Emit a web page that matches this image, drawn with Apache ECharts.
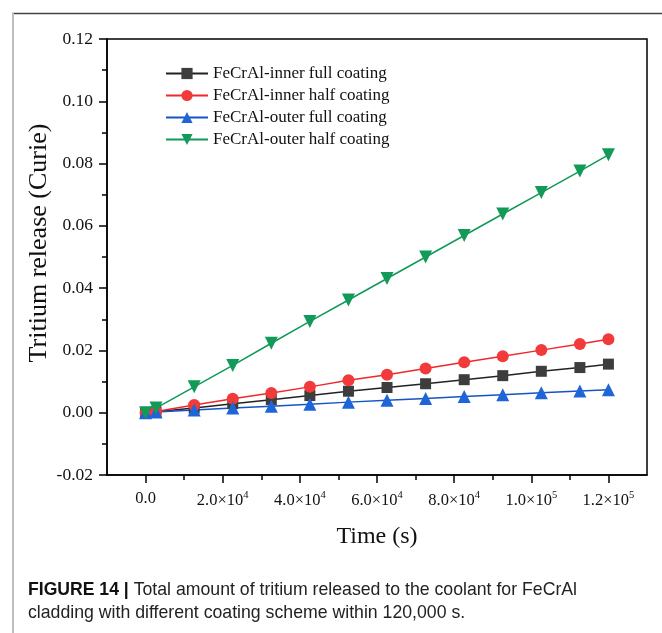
<!DOCTYPE html>
<html>
<head>
<meta charset="utf-8">
<script src="https://cdn.jsdelivr.net/npm/echarts@6/dist/echarts.min.js"></script>
<style>
html,body{margin:0;padding:0;background:#fff;}
#chart{width:662px;height:633px;}
</style>
</head>
<body>
<div id="chart"></div>
<script>
var times = [0, 2700, 12600, 22600, 32600, 42600, 52600, 62600, 72600, 82600, 92600, 102600, 112600, 120000];
var innerFull = [0, 0.0003, 0.0015, 0.0029, 0.0042, 0.0055, 0.0069, 0.0081, 0.0093, 0.0106, 0.0119, 0.0133, 0.0145, 0.0156];
var innerHalf = [0, 0.0004, 0.0025, 0.0045, 0.0063, 0.0083, 0.0104, 0.0122, 0.0142, 0.0162, 0.0181, 0.0201, 0.0221, 0.0236];
var outerFull = [0, 0.0002, 0.0009, 0.0015, 0.0021, 0.0027, 0.0034, 0.0040, 0.0046, 0.0052, 0.0058, 0.0064, 0.0070, 0.0074];
var outerHalf = [0, 0.0015, 0.0083, 0.0152, 0.0223, 0.0293, 0.0362, 0.0431, 0.0500, 0.0569, 0.0638, 0.0707, 0.0776, 0.0828];
var seriesNames = ['FeCrAl-inner full coating', 'FeCrAl-inner half coating', 'FeCrAl-outer full coating', 'FeCrAl-outer half coating'];
var xMajorTicks = [0, 20000, 40000, 60000, 80000, 100000, 120000];
var xMinorTicks = [10000, 30000, 50000, 70000, 90000, 110000];
var xTickLabels = {0: '0.0', 20000: '{m|2.0×10}{s|4}', 40000: '{m|4.0×10}{s|4}', 60000: '{m|6.0×10}{s|4}', 80000: '{m|8.0×10}{s|4}', 100000: '{m|1.0×10}{s|5}', 120000: '{m|1.2×10}{s|5}'};
var yLabel = 'Tritium release (Curie)';
var xLabel = 'Time (s)';
var captionBold = 'FIGURE 14 |';
var captionRest = ' Total amount of tritium released to the coolant for FeCrAl';
var captionLine2 = 'cladding with different coating scheme within 120,000 s.';

function pairs(ys) { return times.map(function (t, i) { return [t, ys[i]]; }); }

var serif = 'Liberation Serif, Times New Roman, serif';
var sans = 'Liberation Sans, Arial, sans-serif';
var chart = echarts.init(document.getElementById('chart'), null, {renderer: 'canvas'});

var xCommon = {type: 'value', min: -10000, max: 130000, splitLine: {show: false}};

var option = {
  animation: false,
  backgroundColor: '#fff',
  title: {
    left: 28, top: 578, padding: 0,
    text: '{b|' + captionBold + '}{r|' + captionRest + '}\n{r|' + captionLine2 + '}',
    textStyle: {
      fontWeight: 'normal',
      rich: {
        b: {fontFamily: sans, fontWeight: 'bold', fontSize: 17.6, color: '#111', lineHeight: 23.5},
        r: {fontFamily: sans, fontWeight: 'normal', fontSize: 17.7, color: '#222', lineHeight: 23.5}
      }
    }
  },
  graphic: [
    {type: 'line', shape: {x1: 12, y1: 13.5, x2: 662, y2: 13.5}, style: {stroke: '#444', lineWidth: 1.5}},
    {type: 'line', shape: {x1: 13, y1: 13, x2: 13, y2: 633}, style: {stroke: '#bdbdbd', lineWidth: 2}}
  ],
  grid: {left: 107, top: 39, right: 15, bottom: 158, show: true, borderColor: '#000', borderWidth: 1.5, backgroundColor: 'transparent'},
  legend: {
    orient: 'vertical', left: 165, top: 65, padding: 0,
    itemWidth: 42, itemHeight: 14, itemGap: 5,
    textStyle: {fontFamily: serif, fontSize: 17, color: '#111'},
    data: seriesNames
  },
  xAxis: [
    Object.assign({}, xCommon, {
      position: 'bottom',
      name: xLabel, nameLocation: 'middle', nameGap: 50,
      nameTextStyle: {fontFamily: serif, fontSize: 24, color: '#111'},
      axisLine: {onZero: false, lineStyle: {color: '#000', width: 1.5}},
      axisTick: {show: true, inside: false, length: 8, lineStyle: {color: '#000', width: 1.5}, customValues: xMajorTicks},
      axisLabel: {
        customValues: xMajorTicks, margin: 15, color: '#111', fontFamily: serif, fontSize: 16.5,
        formatter: function (v) { return xTickLabels[v] || ''; },
        rich: {
          m: {fontFamily: serif, fontSize: 16.5, color: '#111'},
          s: {fontFamily: serif, fontSize: 10.5, color: '#111', verticalAlign: 'top', padding: [0, 0, 10, 0]}
        }
      }
    }),
    Object.assign({}, xCommon, {
      position: 'bottom',
      axisLine: {show: false, onZero: false},
      axisTick: {show: true, length: 5, lineStyle: {color: '#000', width: 1.5}, customValues: xMinorTicks},
      axisLabel: {show: false}
    })
  ],
  yAxis: {
    type: 'value', min: -0.02, max: 0.12, interval: 0.02,
    name: yLabel, nameLocation: 'middle', nameGap: 55, nameMoveOverlap: false,
    nameTextStyle: {fontFamily: serif, fontSize: 26, color: '#111', padding: [0, 0, 0, 28]},
    axisLine: {show: true, onZero: false, lineStyle: {color: '#000', width: 1.5}},
    axisTick: {show: true, length: 8, lineStyle: {color: '#000', width: 1.5}},
    minorTick: {show: true, splitNumber: 2, length: 5, lineStyle: {color: '#000', width: 1.5}},
    splitLine: {show: false},
    axisLabel: {margin: 14, color: '#111', fontFamily: serif, fontSize: 17.5, formatter: function (v) { return v.toFixed(2); }}
  },
  series: [
    {name: seriesNames[0], type: 'line', data: pairs(innerFull), symbol: 'rect', symbolSize: 11,
      lineStyle: {color: '#222', width: 1.5}, itemStyle: {color: '#3d3d3d'}},
    {name: seriesNames[1], type: 'line', data: pairs(innerHalf), symbol: 'circle', symbolSize: 12,
      lineStyle: {color: '#f0282b', width: 1.5}, itemStyle: {color: '#f23a3a'}},
    {name: seriesNames[2], type: 'line', data: pairs(outerFull), symbol: 'triangle', symbolSize: 13,
      lineStyle: {color: '#1554c7', width: 1.5}, itemStyle: {color: '#1e66d8'}},
    {name: seriesNames[3], type: 'line', data: pairs(outerHalf), symbol: 'triangle', symbolSize: 13, symbolRotate: 180,
      lineStyle: {color: '#0f9a57', width: 1.5}, itemStyle: {color: '#119a58'}}
  ]
};
chart.setOption(option);
</script>
</body>
</html>
